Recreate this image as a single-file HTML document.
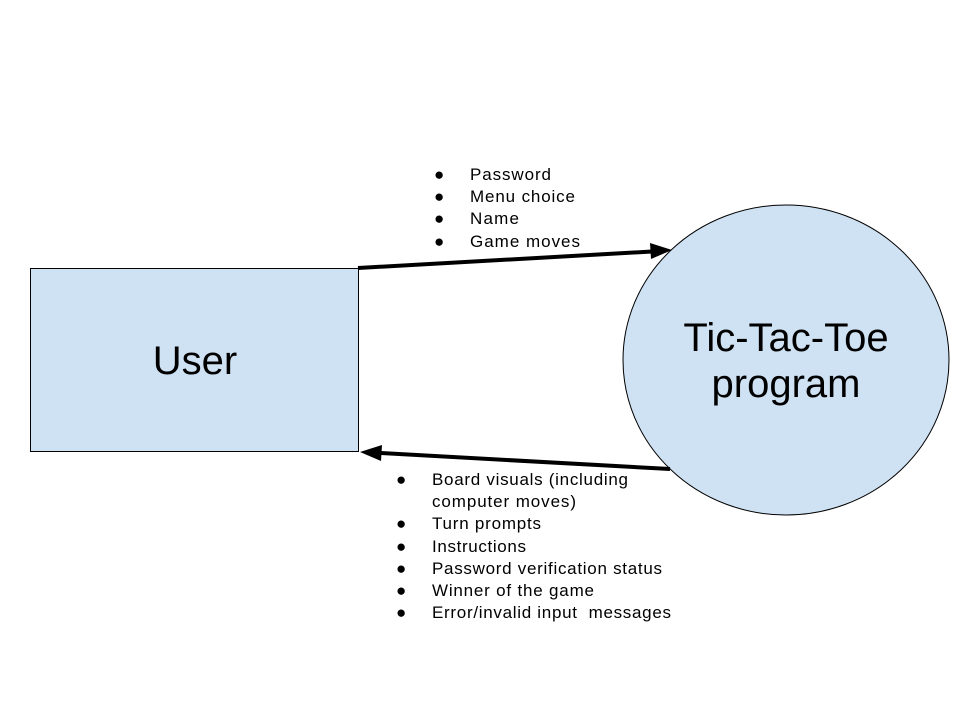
<!DOCTYPE html>
<html><head><meta charset="utf-8"><style>
body{margin:0;background:#fff;}
svg text{font-family:"Liberation Sans",Arial,sans-serif;}
</style></head><body>
<svg width="960" height="720" viewBox="0 0 960 720" xmlns="http://www.w3.org/2000/svg">
<rect width="960" height="720" fill="#fff"/>
<rect x="30.5" y="268.5" width="328" height="183" fill="#cfe2f3" stroke="#000" stroke-width="1"/>
<ellipse cx="786" cy="360" rx="163" ry="155" fill="#cfe2f3" stroke="#000" stroke-width="1"/>
<text x="195" y="374" font-size="40" text-anchor="middle">User</text>
<text x="786" y="351" font-size="40" text-anchor="middle">Tic-Tac-Toe</text>
<text x="786" y="397" font-size="40" text-anchor="middle">program</text>
<line x1="358" y1="268" x2="652" y2="251.5" stroke="#000" stroke-width="4"/>
<polygon points="672,250 650,243 651,259" fill="#000"/>
<line x1="670" y1="469" x2="380" y2="453" stroke="#000" stroke-width="4"/>
<polygon points="360,452 382,445 381,461" fill="#000"/>
<g font-size="17" fill="#000">
<text x="434" y="180">●</text><text x="470" y="180" textLength="81">Password</text>
<text x="434" y="202">●</text><text x="470" y="202" textLength="105">Menu choice</text>
<text x="434" y="224">●</text><text x="470" y="224" textLength="49">Name</text>
<text x="434" y="247">●</text><text x="470" y="247" textLength="110">Game moves</text>
<text x="396" y="485">●</text><text x="432" y="485" textLength="196">Board visuals (including</text>
<text x="432" y="507" textLength="144">computer moves)</text>
<text x="396" y="529">●</text><text x="432" y="529" textLength="109">Turn prompts</text>
<text x="396" y="552">●</text><text x="432" y="552" textLength="94">Instructions</text>
<text x="396" y="574">●</text><text x="432" y="574" textLength="230">Password verification status</text>
<text x="396" y="596">●</text><text x="432" y="596" textLength="162">Winner of the game</text>
<text x="396" y="618">●</text><text x="432" y="618" textLength="239">Error/invalid input&#160; messages</text>
</g>
</svg>
</body></html>
